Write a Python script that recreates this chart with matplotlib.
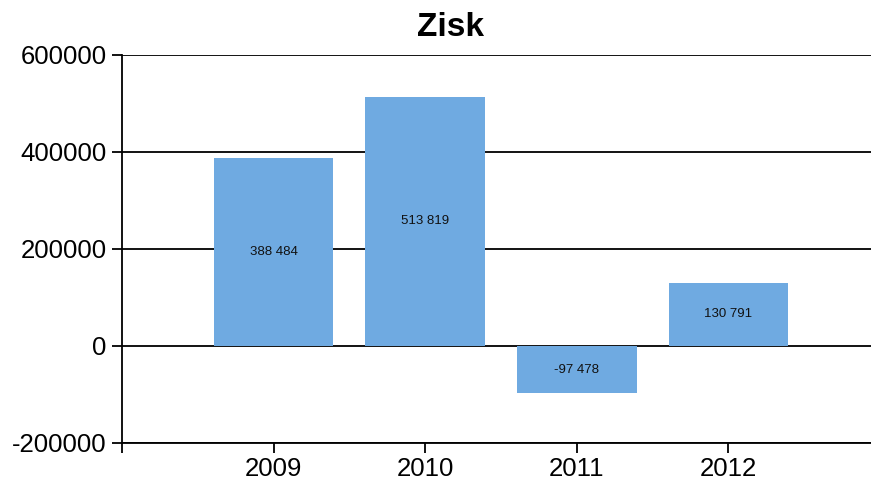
import matplotlib.pyplot as plt
import numpy as np

# Data
years = ['2009', '2010', '2011', '2012']
profit = [388484, 513819, -97478, 130791]
y_ticks = [-200000, 0, 200000, 400000, 600000]

bar_color = '#6FAAE1'

def fmt_value(v):
    # thousands separated by a space, as in the source
    return f'{v:,}'.replace(',', ' ')

plt.rcParams['font.family'] = ['Liberation Sans', 'DejaVu Sans']

fig = plt.figure(figsize=(8.71, 4.86), dpi=100)
ax = fig.add_axes([0.140, 0.0885, 0.860, 0.7985])

x = np.arange(len(years))
bars = ax.bar(x, profit, width=0.79, color=bar_color, zorder=3)

# Value labels in the middle of each bar
for xi, v in zip(x, profit):
    ax.text(xi, v / 2, fmt_value(v), ha='center', va='center', fontsize=9.5, color='#111111', zorder=4)

ax.set_ylim(-200000, 600000)
ax.set_yticks(y_ticks)
ax.set_yticklabels([str(t) for t in y_ticks])
ax.set_xlim(-1, 3.94)
ax.set_xticks(x)
ax.set_xticklabels(years)
ax.set_xticks([-1], minor=True)

# Horizontal grid lines
ax.yaxis.grid(True, color='black', linewidth=1.3, zorder=1)
ax.set_axisbelow(True)

for side in ['top', 'right']:
    ax.spines[side].set_visible(False)
for side in ['left', 'bottom']:
    ax.spines[side].set_linewidth(1.3)
    ax.spines[side].set_color('black')

ax.tick_params(axis='both', which='both', length=7, width=1.3, labelsize=18.5, colors='black', pad=4)
ax.tick_params(axis='x', pad=3)

fig.text(450 / 871, 1 - 28 / 486, 'Zisk', ha='center', va='center', fontsize=24, fontweight='bold')

plt.savefig('out.png', dpi=100)
